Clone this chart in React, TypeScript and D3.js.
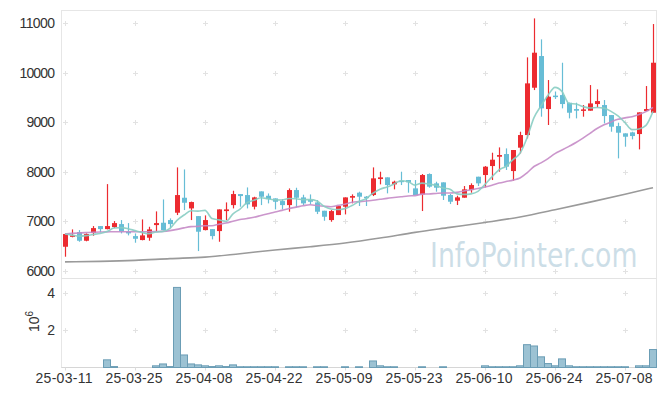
import React from "react";
import * as d3 from "d3";

const dates = [
  "25-03-11","25-03-12","25-03-13","25-03-14","25-03-17","25-03-18","25-03-19","25-03-20","25-03-21","25-03-24",
  "25-03-25","25-03-26","25-03-27","25-03-28","25-03-31","25-04-01","25-04-02","25-04-03","25-04-04","25-04-07",
  "25-04-08","25-04-09","25-04-10","25-04-11","25-04-14","25-04-15","25-04-16","25-04-17","25-04-18","25-04-21",
  "25-04-22","25-04-23","25-04-24","25-04-25","25-04-28","25-04-29","25-04-30","25-05-02","25-05-07","25-05-08",
  "25-05-09","25-05-12","25-05-13","25-05-14","25-05-15","25-05-16","25-05-19","25-05-20","25-05-21","25-05-22",
  "25-05-23","25-05-26","25-05-27","25-05-28","25-05-29","25-05-30","25-06-02","25-06-04","25-06-05","25-06-09",
  "25-06-10","25-06-11","25-06-12","25-06-13","25-06-16","25-06-17","25-06-18","25-06-19","25-06-20","25-06-23",
  "25-06-24","25-06-25","25-06-26","25-06-27","25-06-30","25-07-01","25-07-02","25-07-03","25-07-04","25-07-07",
  "25-07-08","25-07-09","25-07-10","25-07-11","25-07-14",
];

const opens = [
  6490,6700,6786,6611,6766,6907,6846,6887,6947,6793,
  6705,6625,6672,6927,6974,7028,7176,7478,7263,7108,
  6826,6846,6806,7209,7330,7552,7532,7297,7606,7518,
  7465,7411,7330,7633,7485,7431,7384,7216,7028,7129,
  7297,7479,7580,7499,7533,7855,7889,7748,7822,7835,
  7667,7546,7956,7768,7788,7533,7418,7479,7633,7902,
  7936,8117,8305,8359,8016,8487,8742,9696,10335,9266,
  9537,9548,9394,9266,9233,9233,9367,9347,9145,8923,
  8776,8796,8762,9226,9192,
];
const highs = [
  6760,6840,6826,6760,6907,6907,7753,7008,7028,6967,
  6759,7041,6893,7203,7444,7062,8090,8049,7400,7108,
  7122,6846,7243,7384,7619,7552,7686,7498,7606,7565,
  7465,7451,7666,7680,7539,7545,7431,7216,7230,7310,
  7485,7546,7600,7512,8090,8003,7889,7822,8003,7835,
  7835,7956,7969,7801,7788,7553,7519,7714,7768,7902,
  8117,8386,8493,8473,8440,8809,10308,11094,10671,9851,
  9620,10200,9394,9394,9347,9750,9663,9448,9145,8991,
  8776,8809,9199,9730,10980,
];
const lows = [
  6289,6680,6591,6600,6712,6780,6840,6866,6759,6719,
  6571,6620,6611,6793,6820,6860,7129,7230,7028,6403,
  6820,6638,6591,7028,7263,7297,7263,7243,7330,7364,
  7243,7243,7196,7283,7330,7344,7149,7014,6994,7129,
  7142,7365,7311,7311,7512,7748,7566,7647,7734,7580,
  7533,7210,7680,7600,7432,7351,7331,7479,7580,7714,
  7687,7835,8003,8037,7821,8372,8675,9649,9112,8944,
  9470,9280,9078,9078,9112,9233,9300,8977,8809,8272,
  8507,8655,8453,9226,9192,
];
const closes = [
  6746,6720,6611,6746,6866,6846,6907,6967,6793,6759,
  6651,6719,6840,6967,6826,6947,7532,7377,7391,6793,
  7028,6705,7243,7243,7552,7512,7344,7485,7498,7451,
  7397,7330,7633,7478,7364,7397,7196,7095,7209,7310,
  7485,7512,7499,7486,7869,7889,7734,7801,7808,7788,
  7533,7936,7701,7680,7519,7398,7486,7647,7734,7768,
  8104,8245,8339,8104,8440,8742,9784,10402,9280,9515,
  9530,9367,9192,9233,9259,9380,9427,9125,8910,8789,
  8708,8722,9199,9266,10200,
];
// volume, millions of shares
const volumes = [
  0,0,0,0,0,0,0.41,0.05,0,0,
  0,0,0,0.09,0.19,0.05,4.28,0.67,0.19,0.14,
  0.09,0.05,0.09,0.05,0.14,0.04,0.04,0.04,0.04,0.04,
  0.04,0,0.04,0.04,0.04,0,0.04,0.04,0,0,
  0.04,0,0.04,0,0.35,0.09,0.04,0.04,0,0,
  0,0.04,0,0,0.04,0,0,0,0,0,
  0.09,0.04,0.04,0.04,0.04,0.09,1.22,1.15,0.57,0.21,
  0.09,0.46,0.09,0.04,0.04,0.04,0.04,0.04,0.04,0.04,
  0.04,0,0.09,0.09,0.96,
];
// moving-average values before enough closes are shown
const ma5Head = [6746, 6725, 6705, 6715];
const ma20Head = [6750,6760,6768,6775,6782,6787,6790,6792,6793,6793,6793,6793,6793,6795,6800,6815,6840,6870,6895];
// 120-day moving average, read at [index, value]
const ma120Points: [number, number][] = [
  [0,6185],[5,6195],[10,6215],[15,6250],[20,6280],[25,6350],[30,6425],[35,6490],[40,6565],
  [45,6665],[50,6780],[55,6880],[60,6980],[65,7090],[70,7235],[75,7390],[80,7550],[84,7680],
];
const priceTicks = [6000, 7000, 8000, 9000, 10000, 11000];
const volTicks = [2, 4];
const xTickIdx = [0, 10, 20, 30, 40, 50, 60, 70, 80];

const W = 665, H = 396;
const L = 61.5, R = 656.5;
const P_TOP = 10.5, P_BOT = 278.5, V_BOT = 367.5;
const FONT = "'Liberation Sans', Arial, sans-serif";
const UP = "#ec2b30";
const DOWN = "#67bdd6";

function movingAvg(n: number, head: number[]) {
  return closes.map((c, i) => (i < n - 1 ? head[i] : (d3.mean(closes.slice(i - n + 1, i + 1)) as number)));
}

export default function App() {
  const x = d3.scaleBand<number>().domain(d3.range(dates.length)).range([L, R]).padding(0);
  const cx = (i: number) => (x(i) as number) + x.bandwidth() / 2;
  const y = d3.scaleLinear().domain([5860, 11263]).range([278, 10]);
  const yv = d3.scaleLinear().domain([0, 4.73]).range([V_BOT, 279]);

  const ma5 = movingAvg(5, ma5Head);
  const ma20 = movingAvg(20, ma20Head);
  const line = d3
    .line<[number, number]>()
    .x((d) => cx(d[0]))
    .y((d) => y(d[1]))
    .curve(d3.curveMonotoneX);

  const bodyW = 5;
  const cross = (px: number, py: number, k: string) => (
    <path key={k} d={`M${px - 2.5},${py}h5M${px},${py - 2.5}v5`} stroke="#e2e2e2" strokeWidth={1} />
  );

  return (
    <svg width={W} height={H} style={{ position: "absolute", left: 0, top: 0, background: "#fff" }}>
      {/* panel borders */}
      <rect x={L} y={P_TOP} width={R - L} height={V_BOT - P_TOP} fill="none" stroke="#e6e6e6" />
      <line x1={L} x2={R} y1={P_BOT} y2={P_BOT} stroke="#e3e3e3" />
      <line x1={L} x2={R} y1={V_BOT} y2={V_BOT} stroke="#d6d6d6" />

      {/* grid crosses */}
      {xTickIdx.map((i) =>
        priceTicks.map((p) => cross(Math.round(cx(i)) + 0.5, Math.round(y(p)) + 0.5, `p${i}-${p}`))
      )}
      {xTickIdx.map((i) =>
        volTicks.map((v) => cross(Math.round(cx(i)) + 0.5, Math.round(yv(v)) + 0.5, `v${i}-${v}`))
      )}
      {xTickIdx.map((i) => (
        <line key={`t${i}`} x1={Math.round(cx(i)) + 0.5} x2={Math.round(cx(i)) + 0.5} y1={V_BOT} y2={V_BOT + 3} stroke="#dcdcdc" />
      ))}

      {/* watermark */}
      <text
        transform="translate(430,267) scale(0.81,1)"
        fontFamily="'DejaVu Sans', sans-serif"
        fontSize={33}
        fill="#bcd3e0"
        fillOpacity={0.75}
      >
        InfoPointer.com
      </text>

      {/* candles */}
      {dates.map((d, i) => {
        const o = opens[i], c = closes[i];
        const col = c >= o ? UP : DOWN;
        const top = y(Math.max(o, c));
        const bot = y(Math.min(o, c));
        const xc = Math.round(cx(i));
        return (
          <g key={`c${i}`}>
            <line x1={xc + 0.5} x2={xc + 0.5} y1={y(highs[i])} y2={y(lows[i])} stroke={col} strokeWidth={1.2} />
            <rect x={xc + 0.5 - bodyW / 2} y={top} width={bodyW} height={Math.max(1.5, bot - top)} fill={col} />
          </g>
        );
      })}

      {/* moving averages */}
      <path d={line(ma120Points) as string} fill="none" stroke="#9a9a9a" strokeWidth={1.6} />
      <path d={line(ma20.map((v, i) => [i, v] as [number, number])) as string} fill="none" stroke="#c58bc6" strokeWidth={1.6} strokeOpacity={0.9} />
      <path d={line(ma5.map((v, i) => [i, v] as [number, number])) as string} fill="none" stroke="#88cdc3" strokeWidth={1.6} strokeOpacity={0.9} />

      {/* volume bars */}
      {volumes.map((v, i) => {
        const h = V_BOT - yv(v);
        if (h < 0.4) return null;
        return (
          <rect
            key={`v${i}`}
            x={(x(i) as number)}
            y={yv(v)}
            width={x.bandwidth()}
            height={h}
            fill="#9cc2d3"
            stroke="#6b9db5"
            strokeWidth={1}
          />
        );
      })}

      {/* y labels price */}
      {priceTicks.map((p) => (
        <text key={`yl${p}`} x={55} y={y(p) + 5} textAnchor="end" fontFamily={FONT} fontSize={14} fill="#333"
          textLength={String(p).length * 7.1} lengthAdjust="spacing">
          {p}
        </text>
      ))}
      {volTicks.map((v) => (
        <text key={`vl${v}`} x={55} y={yv(v) + 5} textAnchor="end" fontFamily={FONT} fontSize={14} fill="#333">
          {v}
        </text>
      ))}
      <text transform="translate(39,332) rotate(-90)" fontFamily={FONT} fontSize={14} fill="#333">
        10
        <tspan dy={-6} fontSize={10}>6</tspan>
      </text>

      {/* x labels */}
      {xTickIdx.map((i) => (
        <text key={`xl${i}`} x={cx(i) - 1} y={383} textAnchor="middle" fontFamily={FONT} fontSize={14} fill="#333"
          textLength={57} lengthAdjust="spacing">
          {dates[i]}
        </text>
      ))}
    </svg>
  );
}
